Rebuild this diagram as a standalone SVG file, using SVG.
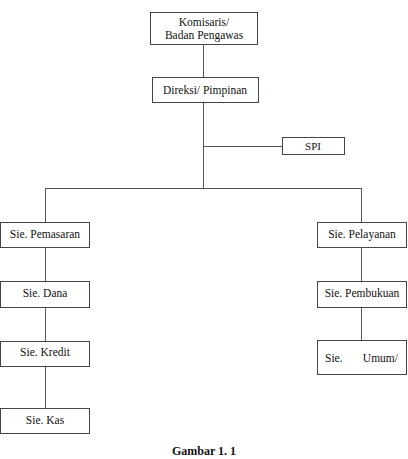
<svg xmlns="http://www.w3.org/2000/svg" width="408" height="459" viewBox="0 0 408 459">
<style>
.box{fill:#fff;stroke:#444;stroke-width:1}
.ln{stroke:#555;stroke-width:1;fill:none}
text{font-family:"Liberation Serif","Times New Roman",serif;font-size:11.5px;fill:#111}
.c{text-anchor:middle}
</style>
<rect width="408" height="459" fill="#fff"/>
<g id="connectors">
<line class="ln" x1="203.5" y1="44" x2="203.5" y2="77"/>
<line class="ln" x1="203.5" y1="102" x2="203.5" y2="188"/>
<line class="ln" x1="203.5" y1="146.5" x2="282" y2="146.5"/>
<line class="ln" x1="45" y1="188.5" x2="361.5" y2="188.5"/>
<line class="ln" x1="45.5" y1="188" x2="45.5" y2="222"/>
<line class="ln" x1="361.5" y1="188" x2="361.5" y2="222"/>
<line class="ln" x1="45.5" y1="247" x2="45.5" y2="281"/>
<line class="ln" x1="45.5" y1="307" x2="45.5" y2="341"/>
<line class="ln" x1="45.5" y1="366" x2="45.5" y2="408"/>
<line class="ln" x1="361.5" y1="247" x2="361.5" y2="281"/>
<line class="ln" x1="361.5" y1="307" x2="361.5" y2="340"/>
</g>
<g id="komisaris"><rect class="box" x="150.5" y="12.5" width="107" height="32"/><text class="c" x="204" y="26">Komisaris/</text><text class="c" x="204" y="39">Badan Pengawas</text></g>
<g id="direksi"><rect class="box" x="152.5" y="77.5" width="106" height="25"/><text class="c" x="205" y="94">Direksi/ Pimpinan</text></g>
<g id="spi"><rect class="box" x="282.5" y="137.5" width="62" height="17"/><text class="c" x="313" y="150" style="font-size:11px">SPI</text></g>
<g id="pemasaran"><rect class="box" x="0.5" y="222.5" width="89" height="25"/><text class="c" x="45" y="238">Sie. Pemasaran</text></g>
<g id="dana"><rect class="box" x="0.5" y="281.5" width="89" height="26"/><text class="c" x="45" y="297">Sie. Dana</text></g>
<g id="kredit"><rect class="box" x="0.5" y="341.5" width="89" height="25"/><text class="c" x="45" y="356">Sie. Kredit</text></g>
<g id="kas"><rect class="box" x="0.5" y="408.5" width="89" height="25"/><text class="c" x="45" y="424">Sie. Kas</text></g>
<g id="pelayanan"><rect class="box" x="317.5" y="222.5" width="89" height="25"/><text class="c" x="362" y="238">Sie. Pelayanan</text></g>
<g id="pembukuan"><rect class="box" x="317.5" y="281.5" width="89" height="26"/><text class="c" x="362" y="297">Sie. Pembukuan</text></g>
<g id="umum"><rect class="box" x="317.5" y="340.5" width="89" height="34"/><text x="325" y="362">Sie.</text><text x="398" y="362" text-anchor="end">Umum/</text></g>
<text class="c" x="204" y="455" style="font-weight:bold;font-size:12px">Gambar 1. 1</text>
</svg>
